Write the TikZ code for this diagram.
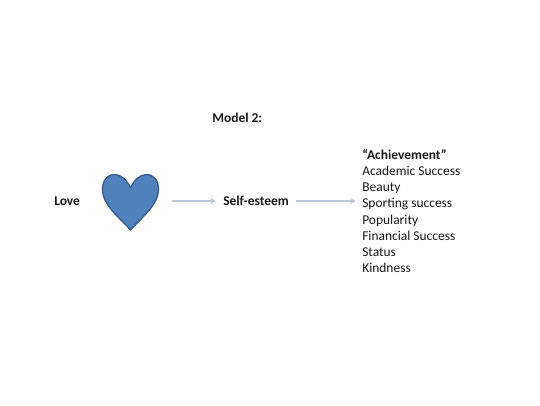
\documentclass[tikz,border=0pt]{standalone}
\usepackage{fontspec}
\setmainfont{Carlito}
\usetikzlibrary{arrows.meta}
\tikzset{
  px/.style={x=0.75pt,y=-0.75pt},
  label/.style={font=\fontsize{10.1pt}{12.15pt}\selectfont\bfseries,text=black!90,inner sep=0pt},
  link/.style={draw=linkcol,line width=0.8pt,-{Stealth[length=4.5pt,width=4.5pt]}},
  heartshape/.style={fill=heartfill,draw=heartline,line width=1pt,line join=round}
}
\definecolor{linkcol}{RGB}{188,199,216}
\definecolor{heartfill}{RGB}{79,129,189}
\definecolor{heartline}{RGB}{56,93,138}
\begin{document}
\begin{tikzpicture}[px]
\useasboundingbox (0,0) rectangle (540,405);
\node[label,anchor=west] (title) at (212,118) {Model 2:};
\node[label,anchor=west] (love) at (54,201) {Love};
\draw[heartshape] (130.5,188)
  .. controls (127,180) and (121,174.5) .. (114.5,174.5)
  .. controls (107,174.5) and (102.5,181) .. (102.5,189)
  .. controls (102.5,205) and (119,217) .. (130.5,230)
  .. controls (142,217) and (158.5,205) .. (158.5,189)
  .. controls (158.5,181) and (154,174.5) .. (146.5,174.5)
  .. controls (140,174.5) and (134,180) .. (130.5,188) -- cycle;
\coordinate (heartout) at (172,201);
\node[label,anchor=west,inner xsep=5.25pt] (esteem) at (216,201) {Self-esteem};
\node[anchor=north west,align=left,inner sep=0pt,text=black!90,font=\fontsize{10.1pt}{12.15pt}\selectfont] (list) at (362,149)
  {\textbf{“Achievement”}\\Academic Success\\Beauty\\Sporting success\\Popularity\\Financial Success\\Status\\Kindness};
\coordinate (listin) at (356,201);
\draw[link] (heartout) -- (esteem.west);
\draw[link] (esteem.east) -- (listin);
\end{tikzpicture}
\end{document}
